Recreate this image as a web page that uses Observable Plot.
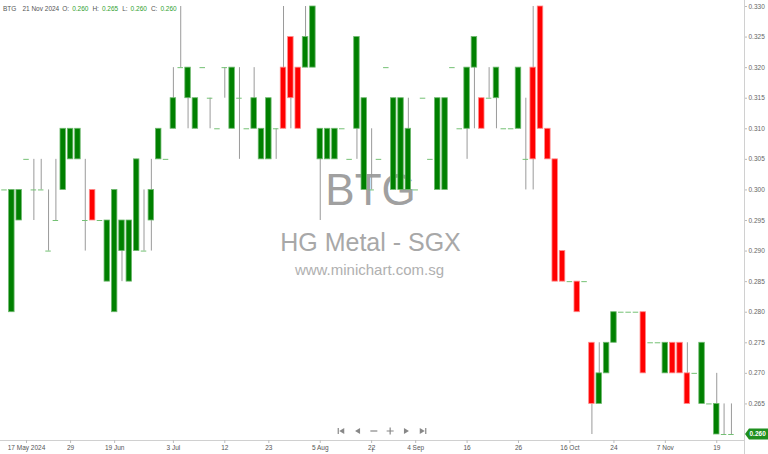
<!DOCTYPE html>
<html>
<head>
<meta charset="utf-8">
<script src="https://cdn.jsdelivr.net/npm/d3@7"></script>
<script src="https://cdn.jsdelivr.net/npm/@observablehq/plot@0.6"></script>
<style>
  body { margin: 0; background: #fff; font-family: "Liberation Sans", Arial, sans-serif; }
  #wrap { position: relative; width: 768px; height: 454px; overflow: hidden; }
  #hdr { position: absolute; left: 3px; top: 5px; font-size: 6.5px; color: #555; white-space: pre; line-height: 8px; }
  #hdr span { margin-right: 3px; }
  #hdr .v { color: #2f9f2f; margin-right: 4px; }
</style>
</head>
<body>
<div id="wrap"><div id="chart"></div><div id="hdr"></div></div>
<script>
// ---- data (one entry per traded session, left to right) ----
const open = [
  0.300,0.280,0.295,0.305,0.300,0.300,0.290,0.295,0.300,0.305,
  0.305,0.295,0.300,0.295,0.285,0.280,0.290,0.285,0.290,0.290,
  0.295,0.305,0.305,0.310,0.320,0.315,0.310,0.320,0.315,0.310,
  0.320,0.310,0.315,0.310,0.310,0.305,0.305,0.310,0.320,0.325,
  0.320,0.320,0.320,0.305,0.305,0.305,0.310,0.305,0.310,0.300,
  0.300,0.305,0.320,0.300,0.300,0.300,0.300,0.315,0.305,0.300,
  0.300,0.320,0.310,0.310,0.320,0.315,0.315,0.315,0.310,0.310,
  0.310,0.305,0.320,0.330,0.310,0.305,0.290,0.285,0.285,0.285,
  0.275,0.265,0.270,0.275,0.280,0.280,0.280,0.280,0.275,0.275,
  0.270,0.275,0.275,0.270,0.270,0.265,0.265,0.260,0.260,0.260
];
const close = [
  0.300,0.300,0.300,0.305,0.300,0.300,0.290,0.295,0.310,0.310,
  0.310,0.295,0.295,0.295,0.295,0.300,0.295,0.295,0.305,0.290,
  0.300,0.310,0.305,0.315,0.320,0.320,0.315,0.320,0.315,0.310,
  0.320,0.320,0.315,0.310,0.315,0.310,0.315,0.310,0.310,0.315,
  0.310,0.325,0.330,0.310,0.310,0.310,0.310,0.305,0.325,0.315,
  0.300,0.305,0.320,0.315,0.315,0.310,0.300,0.315,0.305,0.315,
  0.315,0.320,0.310,0.320,0.325,0.310,0.315,0.320,0.310,0.310,
  0.320,0.305,0.305,0.310,0.305,0.285,0.285,0.285,0.280,0.285,
  0.265,0.270,0.275,0.280,0.280,0.280,0.280,0.270,0.275,0.275,
  0.275,0.270,0.270,0.265,0.270,0.275,0.265,0.265,0.260,0.260
];
const high = [
  0.300,0.300,0.300,0.305,0.305,0.305,0.300,0.305,0.310,0.310,
  0.310,0.305,0.300,0.295,0.295,0.300,0.295,0.295,0.305,0.300,
  0.305,0.310,0.305,0.320,0.330,0.320,0.315,0.320,0.315,0.310,
  0.320,0.320,0.320,0.310,0.320,0.310,0.315,0.310,0.330,0.325,
  0.320,0.330,0.330,0.310,0.310,0.310,0.310,0.305,0.325,0.315,
  0.310,0.305,0.320,0.315,0.315,0.315,0.300,0.315,0.305,0.315,
  0.315,0.320,0.310,0.320,0.325,0.315,0.320,0.320,0.310,0.310,
  0.320,0.315,0.330,0.330,0.310,0.305,0.290,0.285,0.285,0.285,
  0.275,0.275,0.275,0.280,0.280,0.280,0.280,0.280,0.275,0.275,
  0.275,0.275,0.275,0.275,0.270,0.275,0.265,0.270,0.265,0.265
];
const low = [
  0.300,0.280,0.295,0.305,0.295,0.300,0.290,0.295,0.300,0.305,
  0.305,0.290,0.295,0.295,0.285,0.280,0.285,0.285,0.290,0.290,
  0.290,0.305,0.305,0.310,0.320,0.310,0.310,0.320,0.310,0.310,
  0.315,0.310,0.305,0.310,0.310,0.305,0.305,0.305,0.310,0.310,
  0.310,0.320,0.320,0.295,0.305,0.305,0.310,0.305,0.305,0.300,
  0.300,0.305,0.320,0.300,0.300,0.300,0.300,0.315,0.305,0.300,
  0.300,0.320,0.310,0.305,0.310,0.310,0.315,0.310,0.310,0.310,
  0.310,0.300,0.300,0.310,0.305,0.285,0.285,0.285,0.280,0.285,
  0.260,0.265,0.270,0.275,0.280,0.280,0.280,0.270,0.275,0.275,
  0.270,0.270,0.270,0.265,0.270,0.265,0.265,0.260,0.260,0.260
];
const tickIndex  = [3, 9, 15, 23, 30, 36, 43, 50, 56, 63, 70, 77, 83, 90, 97];
const tickLabels = ["17 May 2024","29","19 Jun","3 Jul","12","23","5 Aug","22","4 Sep","16","26","16 Oct","24","7 Nov","19"];
const priceTicks = [0.260,0.265,0.270,0.275,0.280,0.285,0.290,0.295,0.300,0.305,0.310,0.315,0.320,0.325,0.330];
const symbol = "BTG";
const company = "HG Metal - SGX";
const site = "www.minichart.com.sg";
const lastDate = "21 Nov 2024";

// ---- build ----
const data = open.map((o, i) => ({i, o, h: high[i], l: low[i], c: close[i]}));
const bodies = data.filter(d => d.o !== d.c);
const dojis = data.filter(d => d.o === d.c);
const fmt = d3.format(".3f");
const labelOf = new Map(tickIndex.map((t, k) => [t, tickLabels[k]]));
const last = data[data.length - 1];
// the last-price tag covers the axis label at the same level
const axisTicks = priceTicks.filter(t => Math.abs(t - last.c) > 1e-9);

function frameAndNav(index, scales, values, dims) {
  const g = d3.create("svg:g");
  const xr = dims.width - dims.marginRight, yb = dims.height - dims.marginBottom;
  g.append("line").attr("x1", xr + 0.5).attr("x2", xr + 0.5).attr("y1", dims.marginTop).attr("y2", dims.height)
    .attr("stroke", "#d0d0d0");
  g.append("line").attr("x1", dims.marginLeft).attr("x2", xr).attr("y1", yb + 0.5).attr("y2", yb + 0.5)
    .attr("stroke", "#d0d0d0");
  // navigation controls
  const cx = (dims.marginLeft + xr) / 2 + 10, cy = yb - 9, s = 16.3;
  const nav = g.append("g").attr("fill", "#888").attr("stroke", "#888");
  const pos = k => cx + (k - 2.5) * s;
  nav.append("path").attr("d", `M${pos(0)-3},${cy-3}V${cy+3}`).attr("stroke-width", 1.2);
  nav.append("path").attr("d", `M${pos(0)+3},${cy-3}L${pos(0)-2},${cy}L${pos(0)+3},${cy+3}Z`).attr("stroke", "none");
  nav.append("path").attr("d", `M${pos(1)+2.5},${cy-3}L${pos(1)-2.5},${cy}L${pos(1)+2.5},${cy+3}Z`).attr("stroke", "none");
  nav.append("path").attr("d", `M${pos(2)-3.5},${cy}H${pos(2)+3.5}`).attr("stroke-width", 1.2);
  nav.append("path").attr("d", `M${pos(3)-3.5},${cy}H${pos(3)+3.5}M${pos(3)},${cy-3.5}V${cy+3.5}`).attr("stroke-width", 1.2);
  nav.append("path").attr("d", `M${pos(4)-2.5},${cy-3}L${pos(4)+2.5},${cy}L${pos(4)-2.5},${cy+3}Z`).attr("stroke", "none");
  nav.append("path").attr("d", `M${pos(5)-3},${cy-3}L${pos(5)+2},${cy}L${pos(5)-3},${cy+3}Z`).attr("stroke", "none");
  nav.append("path").attr("d", `M${pos(5)+3},${cy-3}V${cy+3}`).attr("stroke-width", 1.2);
  return g.node();
}

function priceTag(index, scales, values, dims) {
  const g = d3.create("svg:g");
  const xr = dims.width - dims.marginRight;
  const yp = scales.y(last.c);
  g.append("path")
    .attr("d", `M${xr + 1},${yp} L${xr + 5},${yp - 5.5} L${dims.width},${yp - 5.5} L${dims.width},${yp + 5.5} L${xr + 5},${yp + 5.5} Z`)
    .attr("fill", "#1f8f1f");
  g.append("text").attr("x", xr + 5.5).attr("y", yp).attr("dy", "0.35em")
    .attr("text-anchor", "start")
    .attr("fill", "#fff").attr("font-size", "6.5px").attr("font-weight", "bold").text(fmt(last.c));
  return g.node();
}

const chart = Plot.plot({
  width: 768,
  height: 454,
  marginTop: 0,
  marginBottom: 14,
  marginLeft: 0,
  marginRight: 24,
  style: {fontFamily: '"Liberation Sans", Arial, sans-serif', fontSize: "6.5px", color: "#555", background: "#fff", overflow: "visible"},
  x: {type: "band", domain: d3.range(open.length), range: [0.33, 734.6], paddingInner: 0.25, paddingOuter: 0.125, align: 0.5, axis: null},
  y: {domain: [0.260, 0.330], range: [434, 6], axis: null},
  marks: [
    Plot.text([symbol], {text: d => d, frameAnchor: "middle", dx: -2, dy: -30, fontSize: 44, fill: "#a0a0a0"}),
    Plot.text([company], {text: d => d, frameAnchor: "middle", dx: -2, dy: 22, fontSize: 25, fill: "#a8a8a8"}),
    Plot.text([site], {text: d => d, frameAnchor: "middle", dx: -3, dy: 50, fontSize: 15, fill: "#b0b0b0"}),
    frameAndNav,
    Plot.axisX({ticks: tickIndex, tickFormat: d => labelOf.get(d), tickSize: 3, tickPadding: 2, stroke: "#bbb", fill: "#555"}),
    Plot.axisY({anchor: "right", ticks: axisTicks, tickFormat: fmt, tickSize: 2, tickPadding: 2, stroke: "#bbb", fill: "#666"}),
    Plot.ruleX(data, {x: "i", y1: "l", y2: "h", stroke: "#9a9a9a", strokeWidth: 1}),
    Plot.barY(bodies, {
      x: "i", y1: "o", y2: "c",
      fill: d => d.c > d.o ? "#008000" : "#ff0000",
      stroke: d => d.c > d.o ? "#6fb96f" : "#ff8a8a",
      strokeWidth: 0.8
    }),
    Plot.tickY(dojis, {x: "i", y: "c", stroke: "#74c174", strokeWidth: 1}),
    priceTag
  ]
});
document.getElementById("chart").appendChild(chart);

// header
const hdr = document.getElementById("hdr");
const parts = [[symbol, ""], [lastDate, ""], ["O:", ""], [fmt(last.o), "v"], ["H:", ""], [fmt(last.h), "v"], ["L:", ""], [fmt(last.l), "v"], ["C:", ""], [fmt(last.c), "v"]];
parts.forEach(([t, c], k) => {
  const sp = document.createElement("span");
  sp.textContent = t;
  if (c) sp.className = c;
  if (k === 0) sp.style.marginRight = "6px";
  hdr.appendChild(sp);
});
</script>
</body>
</html>
